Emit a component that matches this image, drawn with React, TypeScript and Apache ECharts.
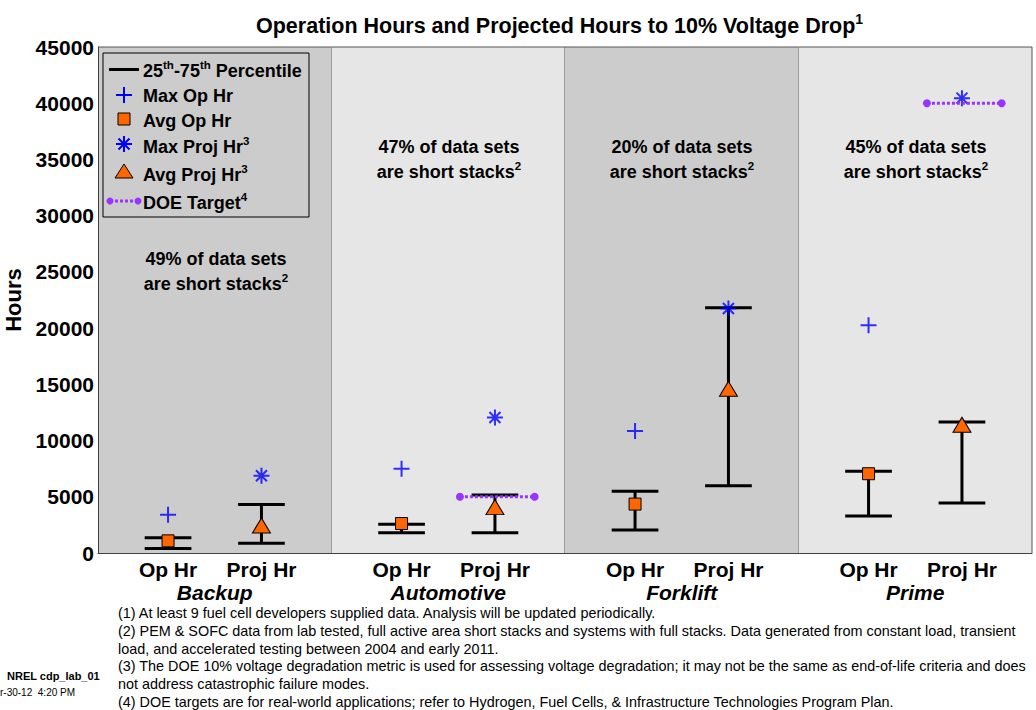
import { useEffect, useRef } from 'react';
import * as echarts from 'echarts';

// ---------- data ----------
const groups = ['Backup', 'Automotive', 'Forklift', 'Prime'];
const opLow = [400, 1800, 2050, 3300];
const opHigh = [1350, 2550, 5500, 7270];
const opAvg = [1080, 2620, 4350, 7050];
const opMax = [3400, 7500, 10850, 20250];
const projLow = [870, 1800, 5970, 4450];
const projHigh = [4320, 5150, 21800, 11650];
const projAvg = [2450, 4080, 14600, 11400];
const projMax = [6870, 12050, 21750, 40450];
const doeTarget: (number | null)[] = [null, 5000, null, 40000];
const shortStackPct = [49, 47, 20, 45];
const subLabels = ['Op Hr', 'Proj Hr'];
const yMin = 0;
const yMax = 45000;
const yInterval = 5000;
const footnotes = [
  '(1) At least 9 fuel cell developers supplied data. Analysis will be updated periodically.',
  '(2) PEM & SOFC data from lab tested, full active area short stacks and systems with full stacks. Data generated from constant load, transient',
  'load, and accelerated testing between 2004 and early 2011.',
  '(3) The DOE 10% voltage degradation metric is used for assessing voltage degradation; it may not be the same as end-of-life criteria and does',
  'not address catastrophic failure modes.',
  '(4) DOE targets are for real-world applications; refer to Hydrogen, Fuel Cells, & Infrastructure Technologies Program Plan.',
];

// ---------- layout / style constants ----------
const FONT = '"Liberation Sans", Arial, Helvetica, sans-serif';
const OP_X = 0.3;
const PROJ_X = 0.7;
const CAP = 0.1;
const DOE_FROM = 0.55;
const DOE_TO = 0.87;
const PANEL_COLORS = ['#cccccc', '#e6e6e6'];
const ORANGE = '#ff6600';
const BLUE = '#0000ff';
const PURPLE = '#9933ff';
const PLUS_PATH = 'path://M8,0L8,16M0,8L16,8';
const STAR_PATH = 'path://M8,0L8,16M0,8L16,8M2.5,2.5L13.5,13.5M13.5,2.5L2.5,13.5';

const axisCats = groups.flatMap((g) => ['', subLabels[0], g, subLabels[1], '']);

const supRich = {
  b: { fontSize: 18, fontWeight: 'bold', color: '#000', fontFamily: FONT, lineHeight: 25 },
  s: { fontSize: 11.5, fontWeight: 'bold', color: '#000', fontFamily: FONT, lineHeight: 14, verticalAlign: 'top' },
};

function textEl(x: number, y: number, text: string, extra: any = {}) {
  return {
    type: 'text',
    x,
    y,
    z: 100,
    silent: true,
    style: {
      text,
      fill: '#000',
      font: `bold 18px ${FONT}`,
      align: 'left',
      textAlign: 'left',
      verticalAlign: 'middle',
      textVerticalAlign: 'middle',
      rich: supRich,
      ...extra,
    },
  };
}

function buildLegend() {
  const cx = 124;
  const tx = 143;
  const els: any[] = [
    {
      type: 'rect',
      z: 99,
      silent: true,
      shape: { x: 103, y: 53, width: 206, height: 164 },
      style: { fill: '#cccccc', stroke: '#000', lineWidth: 1 },
    },
    { type: 'line', z: 100, shape: { x1: 109, y1: 69.5, x2: 139, y2: 69.5 }, style: { stroke: '#000', lineWidth: 3 } },
    { type: 'line', z: 100, shape: { x1: cx - 8, y1: 95, x2: cx + 8, y2: 95 }, style: { stroke: BLUE, lineWidth: 2 } },
    { type: 'line', z: 100, shape: { x1: cx, y1: 87, x2: cx, y2: 103 }, style: { stroke: BLUE, lineWidth: 2 } },
    { type: 'rect', z: 100, shape: { x: cx - 6, y: 113, width: 12, height: 12 }, style: { fill: ORANGE, stroke: '#000', lineWidth: 1 } },
    { type: 'line', z: 100, shape: { x1: cx, y1: 136, x2: cx, y2: 152 }, style: { stroke: BLUE, lineWidth: 2 } },
    { type: 'line', z: 100, shape: { x1: cx - 8, y1: 144, x2: cx + 8, y2: 144 }, style: { stroke: BLUE, lineWidth: 2 } },
    { type: 'line', z: 100, shape: { x1: cx - 5.5, y1: 138.5, x2: cx + 5.5, y2: 149.5 }, style: { stroke: BLUE, lineWidth: 2 } },
    { type: 'line', z: 100, shape: { x1: cx + 5.5, y1: 138.5, x2: cx - 5.5, y2: 149.5 }, style: { stroke: BLUE, lineWidth: 2 } },
    {
      type: 'polygon',
      z: 100,
      shape: { points: [[cx, 164], [cx + 9, 178], [cx - 9, 178]] },
      style: { fill: ORANGE, stroke: '#000', lineWidth: 1 },
    },
    { type: 'line', z: 100, shape: { x1: 110, y1: 201, x2: 138, y2: 201 }, style: { stroke: PURPLE, lineWidth: 3, lineDash: [3, 2] } },
    { type: 'circle', z: 100, shape: { cx: 110, cy: 201, r: 3.5 }, style: { fill: PURPLE } },
    { type: 'circle', z: 100, shape: { cx: 138, cy: 201, r: 3.5 }, style: { fill: PURPLE } },
    textEl(tx, 71, '{b|25}{s|th}{b|-75}{s|th}{b| Percentile}'),
    textEl(tx, 96, '{b|Max Op Hr}'),
    textEl(tx, 121, '{b|Avg Op Hr}'),
    textEl(tx, 147, '{b|Max Proj Hr}{s|3}'),
    textEl(tx, 175, '{b|Avg Proj Hr}{s|3}'),
    textEl(tx, 203, '{b|DOE Target}{s|4}'),
  ];
  return els;
}

function buildAnnotations() {
  const centers = [216, 449, 682, 916];
  const ys = [271.5, 159.5, 159.5, 159.5];
  return shortStackPct.map((p, i) =>
    textEl(centers[i], ys[i], `{b|${p}% of data sets}\n{b|are short stacks}{s|2}`, {
      align: 'center',
      textAlign: 'center',
    })
  );
}

export default function App() {
  const ref = useRef<HTMLDivElement>(null);

  useEffect(() => {
    if (!ref.current) return;
    const chart = echarts.init(ref.current, undefined, { renderer: 'svg' });

    const doeSeries = doeTarget
      .map((v, i) =>
        v == null
          ? null
          : {
              type: 'line',
              name: 'DOE Target',
              data: [
                [i + DOE_FROM, v],
                [i + DOE_TO, v],
              ],
              symbol: 'circle',
              symbolSize: 8,
              showSymbol: true,
              lineStyle: { color: PURPLE, width: 3, type: [3, 2] },
              itemStyle: { color: PURPLE },
              silent: true,
            }
      )
      .filter(Boolean);

    const option: any = {
      animation: false,
      textStyle: { fontFamily: FONT },
      title: {
        text: '{t|Operation Hours and Projected Hours to 10% Voltage Drop}{s|1}',
        left: 251,
        top: 7,
        textStyle: {
          rich: {
            t: { fontSize: 21.5, fontWeight: 'bold', color: '#000', fontFamily: FONT, lineHeight: 28 },
            s: { fontSize: 14, fontWeight: 'bold', color: '#000', fontFamily: FONT, lineHeight: 16, verticalAlign: 'top' },
          },
        },
      },
      grid: { left: 98, right: 4, top: 47, bottom: 157, outerBoundsMode: 'none', containLabel: false },
      xAxis: [
        { type: 'value', min: 0, max: groups.length, show: false },
        {
          type: 'category',
          data: axisCats,
          position: 'bottom',
          z: 10,
          axisLine: { show: true, lineStyle: { color: '#404040', width: 1 } },
          axisTick: { show: false },
          splitLine: { show: false },
          axisLabel: {
            interval: 0,
            margin: 5,
            hideOverlap: false,
            formatter: (value: string, index: number) =>
              index % 5 === 2 ? `{e| }\n{g|${value}}` : value ? `{c|${value}}` : '',
            rich: {
              c: { fontSize: 21, fontWeight: 'bold', color: '#000', fontFamily: FONT, lineHeight: 23 },
              e: { fontSize: 21, color: '#000', fontFamily: FONT, lineHeight: 23 },
              g: { fontSize: 21, fontWeight: 'bold', fontStyle: 'italic', color: '#000', fontFamily: FONT, lineHeight: 23 },
            },
          },
        },
      ],
      yAxis: {
        type: 'value',
        min: yMin,
        max: yMax,
        interval: yInterval,
        name: 'Hours',
        nameLocation: 'middle',
        nameGap: 68,
        nameTextStyle: { fontSize: 22, fontWeight: 'bold', color: '#000', fontFamily: FONT },
        z: 10,
        axisLine: { show: true, lineStyle: { color: '#404040', width: 1 } },
        axisTick: { show: false },
        splitLine: { show: false },
        axisLabel: {
          fontSize: 21,
          fontWeight: 'bold',
          color: '#000',
          margin: 4,
          fontFamily: FONT,
          formatter: (v: number) => String(v),
        },
      },
      series: [
        {
          type: 'custom',
          name: 'panels',
          silent: true,
          data: groups.map((_, i) => [i, yMin]),
          encode: { x: 0, y: 1 },
          renderItem: (params: any, api: any) => {
            const i = api.value(0);
            const tl = api.coord([i, yMax]);
            const br = api.coord([i + 1, yMin]);
            return {
              type: 'group',
              children: [
                {
                  type: 'rect',
                  shape: { x: tl[0], y: tl[1], width: br[0] - tl[0], height: br[1] - tl[1] },
                  style: { fill: PANEL_COLORS[i % 2] },
                },
                { type: 'line', shape: { x1: br[0], y1: tl[1], x2: br[0], y2: br[1] }, style: { stroke: '#555', lineWidth: 1 } },
                { type: 'line', shape: { x1: tl[0], y1: tl[1], x2: br[0], y2: tl[1] }, style: { stroke: '#555', lineWidth: 1 } },
              ],
            };
          },
        },
        {
          type: 'custom',
          name: '25th-75th Percentile',
          silent: true,
          data: groups.flatMap((_, i) => [
            [i + OP_X, opLow[i], opHigh[i]],
            [i + PROJ_X, projLow[i], projHigh[i]],
          ]),
          encode: { x: 0, y: [1, 2] },
          renderItem: (params: any, api: any) => {
            const x = api.value(0);
            const lo = api.coord([x, api.value(1)]);
            const hi = api.coord([x, api.value(2)]);
            const l = api.coord([x - CAP, api.value(1)])[0];
            const r = api.coord([x + CAP, api.value(1)])[0];
            const st = { stroke: '#000', lineWidth: 3 };
            return {
              type: 'group',
              children: [
                { type: 'line', shape: { x1: lo[0], y1: lo[1], x2: hi[0], y2: hi[1] }, style: st },
                { type: 'line', shape: { x1: l, y1: hi[1], x2: r, y2: hi[1] }, style: st },
                { type: 'line', shape: { x1: l, y1: lo[1], x2: r, y2: lo[1] }, style: st },
              ],
            };
          },
        },
        ...doeSeries,
        {
          type: 'scatter',
          name: 'Max Op Hr',
          data: groups.map((_, i) => [i + OP_X, opMax[i]]),
          symbol: PLUS_PATH,
          symbolSize: 16,
          itemStyle: { color: BLUE, borderColor: BLUE, borderWidth: 2 },
        },
        {
          type: 'scatter',
          name: 'Avg Op Hr',
          data: groups.map((_, i) => [i + OP_X, opAvg[i]]),
          symbol: 'rect',
          symbolSize: 12,
          itemStyle: { color: ORANGE, borderColor: '#000', borderWidth: 1, opacity: 1 },
        },
        {
          type: 'scatter',
          name: 'Max Proj Hr',
          data: groups.map((_, i) => [i + PROJ_X, projMax[i]]),
          symbol: STAR_PATH,
          symbolSize: 16,
          itemStyle: { color: BLUE, borderColor: BLUE, borderWidth: 2 },
        },
        {
          type: 'scatter',
          name: 'Avg Proj Hr',
          data: groups.map((_, i) => [i + PROJ_X, projAvg[i]]),
          symbol: 'triangle',
          symbolSize: [18, 15],
          itemStyle: { color: ORANGE, borderColor: '#000', borderWidth: 1, opacity: 1 },
        },
      ],
      graphic: [
        ...buildLegend(),
        ...buildAnnotations(),
        {
          type: 'text',
          x: 118,
          y: 604,
          z: 100,
          silent: true,
          style: {
            text: footnotes.join('\n'),
            fill: '#000',
            font: `14.4px ${FONT}`,
            lineHeight: 17.8,
            align: 'left',
            textAlign: 'left',
            verticalAlign: 'top',
            textVerticalAlign: 'top',
          },
        },
        {
          type: 'text',
          x: 7,
          y: 676,
          z: 100,
          silent: true,
          style: {
            text: 'NREL cdp_lab_01',
            fill: '#000',
            font: `bold 11px ${FONT}`,
            verticalAlign: 'middle',
            textVerticalAlign: 'middle',
          },
        },
        {
          type: 'text',
          x: 0,
          y: 692,
          z: 100,
          silent: true,
          style: {
            text: 'r-30-12  4:20 PM',
            fill: '#000',
            font: `10px ${FONT}`,
            verticalAlign: 'middle',
            textVerticalAlign: 'middle',
          },
        },
      ],
    };

    chart.setOption(option);
    return () => chart.dispose();
  }, []);

  return (
    <div
      ref={ref}
      style={{ position: 'absolute', left: 0, top: 0, width: 1036, height: 710, background: '#fff' }}
    />
  );
}
